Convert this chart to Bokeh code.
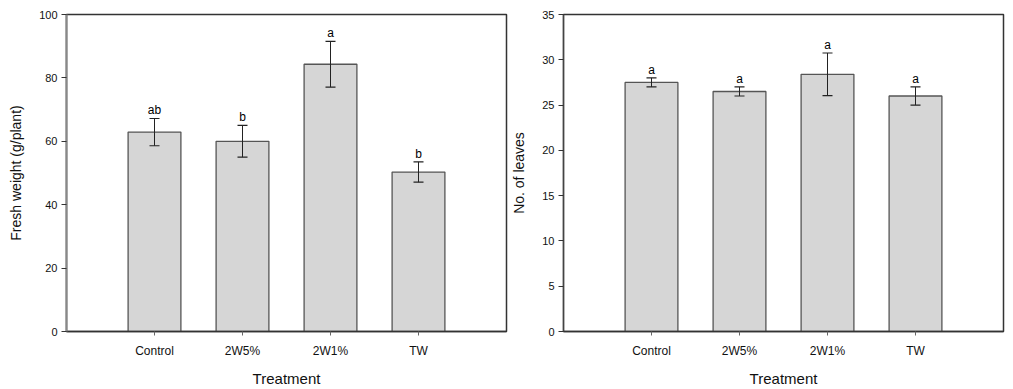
from bokeh.plotting import figure
from bokeh.layouts import row
from bokeh.models import ColumnDataSource, Range1d, FixedTicker
from bokeh.core.properties import value
from bokeh.embed import file_html
from bokeh.resources import INLINE

categories = ["Control", "2W5%", "2W1%", "TW"]

fresh_weight = [62.9, 60.0, 84.3, 50.3]
fresh_err = [4.3, 5.0, 7.2, 3.2]
fresh_letters = ["ab", "b", "a", "b"]

leaves = [27.5, 26.5, 28.4, 26.0]
leaves_err = [0.5, 0.5, 2.35, 1.0]
leaves_letters = ["a", "a", "a", "a"]

FONT = "Liberation Sans"


def make_panel(vals, errs, letters, ymax, ystep, ylabel, width, bl, left_axis_color, left_axis_width):
    xs = list(range(1, len(categories) + 1))
    src = ColumnDataSource(dict(
        x=xs, y=vals,
        upper=[v + e for v, e in zip(vals, errs)],
        lower=[v - e for v, e in zip(vals, errs)],
        lab=letters,
    ))
    p = figure(width=width, height=389, output_backend="svg", toolbar_location=None,
               x_range=Range1d(0, len(categories) + 1), y_range=Range1d(0, ymax),
               min_border_left=bl, min_border_right=2, min_border_top=14, min_border_bottom=57)
    p.outline_line_color = "#333333"
    p.outline_line_width = 1.5
    p.xgrid.visible = False
    p.ygrid.visible = False
    p.background_fill_color = "white"
    p.border_fill_color = "white"

    p.vbar(x="x", top="y", bottom=0, width=0.6, source=src,
           fill_color="#d6d6d6", line_color="#555555", line_width=1.3)
    p.segment(x0="x", y0="lower", x1="x", y1="upper", source=src,
              line_color="#222222", line_width=1)
    p.scatter(x="x", y="upper", marker="dash", size=10, source=src,
              line_color="#222222", line_width=1.2)
    p.scatter(x="x", y="lower", marker="dash", size=10, source=src,
              line_color="#222222", line_width=1.2)
    p.text(x="x", y="upper", text="lab", source=src, text_align="center",
           text_baseline="bottom", y_offset=-1, text_font_size="12px",
           text_font=value(FONT), text_color="#000000")

    p.xaxis.ticker = FixedTicker(ticks=xs)
    p.xaxis.major_label_overrides = {x: c for x, c in zip(xs, categories)}
    p.xaxis.minor_tick_line_color = None
    p.xaxis.major_tick_in = 0
    p.xaxis.major_tick_out = 4
    p.xaxis.major_tick_line_color = "#666666"
    p.xaxis.axis_line_color = "#333333"
    p.xaxis.axis_line_width = 1.5
    p.xaxis.major_label_standoff = 8
    p.xaxis.axis_label = "Treatment"
    p.xaxis.axis_label_standoff = 9

    p.yaxis.ticker = FixedTicker(ticks=list(range(0, ymax + 1, ystep)))
    p.yaxis.minor_tick_line_color = None
    p.yaxis.major_tick_in = 0
    p.yaxis.major_tick_out = 5
    p.yaxis.major_tick_line_color = "#333333"
    p.yaxis.axis_line_color = left_axis_color
    p.yaxis.axis_line_width = left_axis_width
    p.yaxis.major_label_standoff = 4
    p.yaxis.axis_label = ylabel
    p.yaxis.axis_label_standoff = 12

    for ax in (p.xaxis[0], p.yaxis[0]):
        ax.major_label_text_font = FONT
        ax.major_label_text_font_size = "11px"
        ax.major_label_text_color = "#111111"
        ax.axis_label_text_font = FONT
        ax.axis_label_text_font_size = "14px"
        ax.axis_label_text_font_style = "normal"
        ax.axis_label_text_color = "#111111"
    p.xaxis.major_label_text_font_size = "12px"
    p.xaxis.axis_label_text_font_size = "15px"
    return p


p1 = make_panel(fresh_weight, fresh_err, fresh_letters, 100, 20, "Fresh weight (g/plant)",
                508, 66, "#888888", 2)
p2 = make_panel(leaves, leaves_err, leaves_letters, 35, 5, "No. of leaves",
                497, 54, "#444444", 1.3)

layout = row(p1, p2)
open("out.html", "w").write(file_html(layout, INLINE))
